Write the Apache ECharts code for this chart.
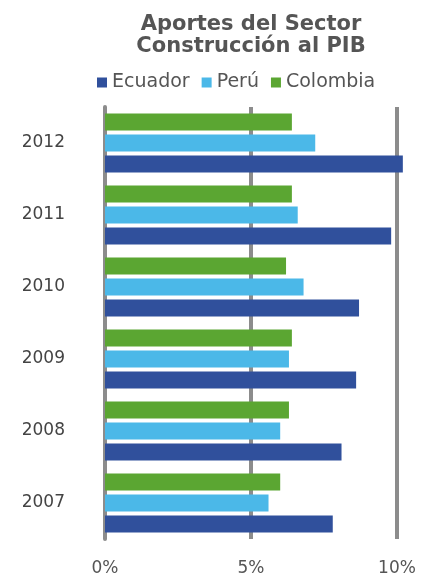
<!DOCTYPE html>
<html>
<head>
<meta charset="utf-8">
<script src="https://cdn.jsdelivr.net/npm/echarts@6/dist/echarts.min.js"></script>
<style>
  html, body { margin: 0; padding: 0; background: #fff; }
  #chart { width: 426px; height: 577px; }
</style>
</head>
<body>
<div id="chart"></div>
<script>
// datos (% del PIB)
const years = ['2007', '2008', '2009', '2010', '2011', '2012'];
const ecuador = [7.8, 8.1, 8.6, 8.7, 9.8, 10.2];
const peru = [5.6, 6.0, 6.3, 6.8, 6.6, 7.2];
const colombia = [6.0, 6.3, 6.4, 6.2, 6.4, 6.4];
const ticks = [0, 5, 10];

const chart = echarts.init(document.getElementById('chart'));

const barStyle = {
    type: 'bar',
    barCategoryGap: '18%',
    barGap: '24%',
    clip: false
};

const option = {
    backgroundColor: '#fff',
    textStyle: { fontFamily: 'DejaVu Sans, sans-serif' },
    title: {
        text: 'Aportes del Sector\nConstrucción al PIB',
        left: 246,
        top: 9,
        textAlign: 'center',
        textStyle: {
            fontSize: 21,
            fontWeight: 'bold',
            color: '#555',
            lineHeight: 22
        }
    },
    legend: {
        data: ['Ecuador', 'Perú', 'Colombia'],
        top: 68,
        left: 92,
        itemWidth: 10,
        itemHeight: 10,
        itemGap: 12,
        icon: 'rect',
        textStyle: { fontSize: 19, color: '#555' }
    },
    grid: { left: 105, right: 29, top: 107, bottom: 37, containLabel: false },
    xAxis: {
        type: 'value',
        min: ticks[0],
        max: ticks[ticks.length - 1],
        interval: 5,
        axisLine: { show: false },
        axisTick: { show: false },
        axisLabel: {
            formatter: '{value}%',
            fontSize: 17,
            color: '#555',
            margin: 21
        },
        splitLine: { lineStyle: { color: '#8c8c8c', width: 4 } }
    },
    yAxis: {
        type: 'category',
        data: years,
        axisLine: { show: true, lineStyle: { color: '#8c8c8c', width: 4 } },
        axisTick: { show: false },
        axisLabel: { fontSize: 17, color: '#444', margin: 40 }
    },
    // la primera serie queda arriba dentro de cada grupo
    series: [
        Object.assign({ name: 'Colombia', data: colombia, itemStyle: { color: '#5ba632' } }, barStyle),
        Object.assign({ name: 'Perú', data: peru, itemStyle: { color: '#4bb8e8' } }, barStyle),
        Object.assign({ name: 'Ecuador', data: ecuador, itemStyle: { color: '#30509c' } }, barStyle)
    ]
};

chart.setOption(option);
</script>
</body>
</html>
